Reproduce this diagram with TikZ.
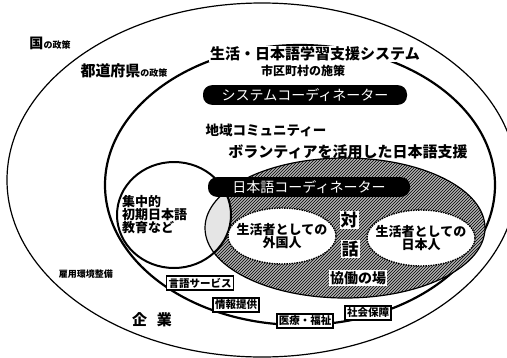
\documentclass[tikz,border=0pt]{standalone}
\usepackage{fontspec}
\setmainfont{Noto Sans CJK JP}
\usetikzlibrary{patterns}
\begin{document}
\begin{tikzpicture}[x=1pt,y=-1pt,
  jt/.style={font=\bfseries\fontsize{#1}{#1}\selectfont, inner sep=1pt},
  pill/.style={fill=black, text=white, rounded corners=9pt, minimum height=19pt, inner xsep=8pt, font=\fontsize{#1}{#1}\selectfont},
  tag/.style={draw, line width=1.6pt, fill=white, inner sep=2pt, font=\bfseries\fontsize{#1}{#1}\selectfont},
  dotring/.style={draw=black, line width=1.4pt, dash pattern=on 1.5pt off 1pt, fill=white}]
\useasboundingbox (0,0) rectangle (507,357);
\fill[white] (0,0) rectangle (507,357);
% outer (national) and system ellipses
\draw[line width=1.2pt] (262,180) ellipse [x radius=255pt, y radius=177pt];
\draw[line width=2.2pt] (300,185) ellipse [x radius=195pt, y radius=140pt];
% shaded volunteer ellipse
\fill[gray!62] (345,228) ellipse [x radius=140pt, y radius=70pt];
\fill[pattern=north east lines, pattern color=black] (345,228) ellipse [x radius=140pt, y radius=70pt];
\begin{scope}
  \clip (345,228) ellipse [x radius=140pt, y radius=70pt];
  \fill[gray!20] (174,215) ellipse [x radius=57pt, y radius=53pt];
\end{scope}
\draw[line width=1.2pt] (345,228) ellipse [x radius=140pt, y radius=70pt];
\draw[line width=2pt] (174,215) ellipse [x radius=57pt, y radius=53pt];
% inner white ellipses
\draw[dotring] (282,236) ellipse [x radius=54pt, y radius=28pt];
\draw[dotring] (421,238) ellipse [x radius=54pt, y radius=28pt];
% labels
\node[jt=14] (kuni) at (50,43) {国{\fontsize{9}{9}\selectfont の政策}};
\node[jt=15] (todo) at (124,71) {都道府県{\fontsize{9}{9}\selectfont の政策}};
\node[jt=15, fill=white] (sys) at (315,54) {生活・日本語学習支援システム};
\node[jt=12] (shiku) at (303,71) {市区町村の施策};
\node[pill=14, minimum width=204pt] (sysco) at (305,95) {システムコーディネーター};
\node[jt=13.5] (chiiki) at (266,130) {地域コミュニティー};
\node[jt=15] (vol) at (348,152) {ボランティアを活用した日本語支援};
\node[pill=14, minimum width=202pt] (nihonco) at (309,187) {日本語コーディネーター};
\node[jt=13, align=left, anchor=west] (shuchu) at (121,215) {集中的\\初期日本語\\教育など};
\node[jt=13, align=center] (gai) at (282,236) {生活者としての\\外国人};
\node[jt=13, align=center] (nihon) at (421,238) {生活者としての\\日本人};
\node[jt=17, fill=white] (tai) at (349,220) {対};
\node[jt=17, fill=white] (wa) at (350,249) {話};
\node[jt=14, fill=white] (kyodo) at (358,278) {協働の場};
\node[tag=10.5] (gengo) at (200,283) {言語サービス};
\node[tag=10.5] (joho) at (236,305) {情報提供};
\node[tag=10.5] (iryo) at (305,321) {医療・福祉};
\node[tag=10.5] (shakai) at (368,313) {社会保障};
\node[jt=9] (koyo) at (86,274) {雇用環境整備};
\node[jt=15] (kigyo) at (152,320) {企\hspace{10pt}業};
\end{tikzpicture}
\end{document}
